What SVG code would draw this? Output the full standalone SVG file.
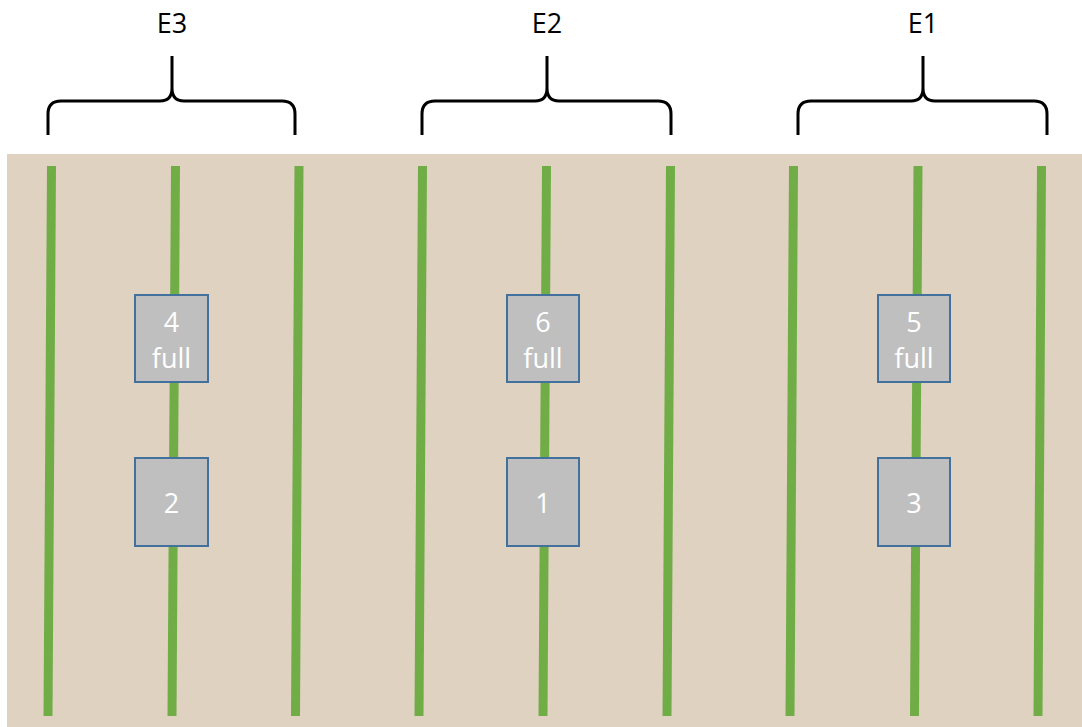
<svg xmlns="http://www.w3.org/2000/svg" width="1082" height="727" viewBox="0 0 1082 727">
<style>
.brace{fill:none;stroke:#000;stroke-width:3;stroke-linejoin:round}
.lbl{font-family:"Open Sans",sans-serif;font-size:27px;fill:#000;text-anchor:middle}
.row{stroke:#70AD47;stroke-width:9;fill:none}
.box{fill:#BFBFBF;stroke:#41719C;stroke-width:2}
.bt{font-family:"Open Sans",sans-serif;font-size:27px;fill:#fff;text-anchor:middle}
</style>
<rect x="7" y="154" width="1075" height="573" fill="#E0D2C1"/>
<g id="connectors">
<line class="row" x1="51.5" y1="166" x2="48" y2="716"/>
<line class="row" x1="175.5" y1="166" x2="172" y2="716"/>
<line class="row" x1="299" y1="166" x2="295.5" y2="716"/>
<line class="row" x1="422.5" y1="166" x2="419" y2="716"/>
<line class="row" x1="546.5" y1="166" x2="543" y2="716"/>
<line class="row" x1="670.5" y1="166" x2="667" y2="716"/>
<line class="row" x1="793.5" y1="166" x2="790" y2="716"/>
<line class="row" x1="918" y1="166" x2="914.5" y2="716"/>
<line class="row" x1="1041.5" y1="166" x2="1038" y2="716"/>
</g>
<g id="E3">
<path class="brace" d="M48,135 L48,114 Q48,101 61,101 L160,101 Q172,101 172,88 L172,56 M172,88 Q172,101 184,101 L282,101 Q295,101 295,114 L295,135"/>
<text class="lbl" x="172" y="33">E3</text>
</g>
<g id="E2">
<path class="brace" d="M422,135 L422,114 Q422,101 435,101 L535,101 Q547,101 547,88 L547,56 M547,88 Q547,101 559,101 L658,101 Q671,101 671,114 L671,135"/>
<text class="lbl" x="547" y="33">E2</text>
</g>
<g id="E1">
<path class="brace" d="M798,135 L798,114 Q798,101 811,101 L911,101 Q923,101 923,88 L923,56 M923,88 Q923,101 935,101 L1034,101 Q1047,101 1047,114 L1047,135"/>
<text class="lbl" x="923" y="33">E1</text>
</g>
<g id="n4">
<rect class="box" x="135" y="295" width="73" height="87"/>
<text class="bt" x="171.5" y="332">4</text>
<text class="bt" x="171.5" y="368">full</text>
</g>
<g id="n2">
<rect class="box" x="135" y="458" width="73" height="88"/>
<text class="bt" x="171.5" y="513">2</text>
</g>
<g id="n6">
<rect class="box" x="507" y="295" width="72" height="87"/>
<text class="bt" x="543" y="332">6</text>
<text class="bt" x="543" y="368">full</text>
</g>
<g id="n1">
<rect class="box" x="507" y="458" width="72" height="88"/>
<text class="bt" x="543" y="513">1</text>
</g>
<g id="n5">
<rect class="box" x="878" y="295" width="72" height="87"/>
<text class="bt" x="914" y="332">5</text>
<text class="bt" x="914" y="368">full</text>
</g>
<g id="n3">
<rect class="box" x="878" y="458" width="72" height="88"/>
<text class="bt" x="914" y="513">3</text>
</g>
</svg>
